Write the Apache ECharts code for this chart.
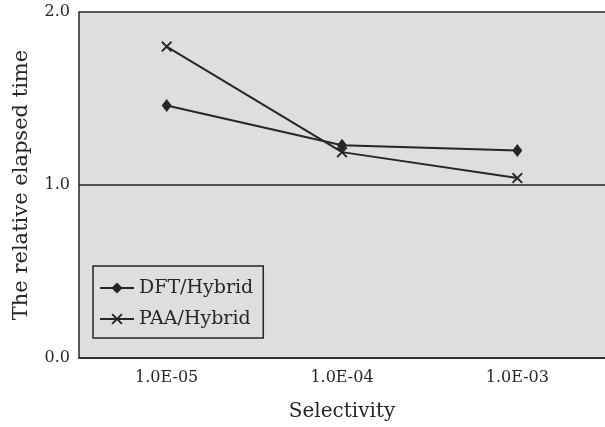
<!DOCTYPE html>
<html>
<head>
<meta charset="utf-8">
<script src="https://cdn.jsdelivr.net/npm/echarts@6/dist/echarts.min.js"></script>
<style>
	body { margin: 0; background: #fff; }
	#chart { width: 605px; height: 427px; }
</style>
</head>
<body>
<div id="chart"></div>
<script>
	// values
	var categories = ['1.0E-05', '1.0E-04', '1.0E-03'];
	var dftHybrid = [1.46, 1.23, 1.20];
	var paaHybrid = [1.80, 1.19, 1.04];
	var seriesNames = ['DFT/Hybrid', 'PAA/Hybrid'];

	var ink = '#262626';
	var paper = '#dedede';
	var serif = 'DejaVu Serif';
	// filled "x" marker
	var crossPath = 'path://M0,1.2L1.2,0L5,3.8L8.8,0L10,1.2L6.2,5L10,8.8L8.8,10L5,6.2L1.2,10L0,8.8L3.8,5Z';

	var chart = echarts.init(document.getElementById('chart'));
	var option = {
		backgroundColor: '#fff',
		animation: false,
		grid: {
			left: 79,
			top: 12,
			width: 534,
			bottom: 65,
			show: true,
			backgroundColor: paper,
			borderWidth: 0
		},
		legend: {
			orient: 'vertical',
			left: 93,
			top: 266,
			padding: [12, 10, 9, 6],
			itemWidth: 34,
			itemHeight: 14,
			itemGap: 11,
			backgroundColor: paper,
			borderColor: ink,
			borderWidth: 1.5,
			borderRadius: 0,
			textStyle: {
				fontFamily: serif,
				fontSize: 19,
				color: ink,
				lineHeight: 20
			},
			data: seriesNames
		},
		xAxis: {
			type: 'category',
			data: categories,
			name: 'Selectivity',
			nameLocation: 'middle',
			nameGap: 44,
			nameTextStyle: { fontFamily: serif, fontSize: 20, color: ink },
			axisLine: { lineStyle: { color: ink, width: 1.5 } },
			axisTick: { inside: true, length: 5, lineStyle: { color: ink, width: 1.5 } },
			axisLabel: { fontFamily: serif, fontSize: 16, color: ink, margin: 12 }
		},
		yAxis: {
			type: 'value',
			min: 0,
			max: 2,
			interval: 1,
			name: 'The relative elapsed time',
			nameLocation: 'middle',
			nameGap: 47,
			nameTextStyle: { fontFamily: serif, fontSize: 21, color: ink },
			axisLine: { show: true, lineStyle: { color: ink, width: 1.5 } },
			axisTick: { show: false },
			axisLabel: {
				fontFamily: serif,
				fontSize: 16,
				color: ink,
				margin: 9,
				formatter: function (v) { return v.toFixed(1); }
			},
			splitLine: { show: true, lineStyle: { color: ink, width: 1.5 } }
		},
		series: [{
			name: seriesNames[0],
			type: 'line',
			data: dftHybrid,
			symbol: 'diamond',
			symbolSize: [10, 13],
			lineStyle: { color: ink, width: 2 },
			itemStyle: { color: ink }
		}, {
			name: seriesNames[1],
			type: 'line',
			data: paaHybrid,
			symbol: crossPath,
			symbolSize: 11,
			lineStyle: { color: ink, width: 2 },
			itemStyle: { color: ink }
		}]
	};
	chart.setOption(option);
</script>
</body>
</html>
